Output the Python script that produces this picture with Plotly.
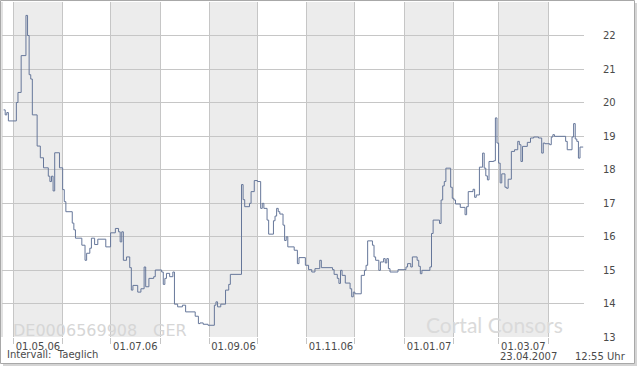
import plotly.graph_objects as go

# ---- data ----
dates = [
    "2006-04-25", "2006-04-26", "2006-04-27", "2006-04-28", "2006-05-03", "2006-05-04", "2006-05-06",
    "2006-05-09", "2006-05-10", "2006-05-11", "2006-05-12", "2006-05-13", "2006-05-16", "2006-05-18",
    "2006-05-20", "2006-05-23", "2006-05-24", "2006-05-25", "2006-05-26", "2006-05-27", "2006-05-30",
    "2006-06-01", "2006-06-02", "2006-06-03", "2006-06-07", "2006-06-08", "2006-06-09", "2006-06-13",
    "2006-06-15", "2006-06-16", "2006-06-18", "2006-06-19", "2006-06-21", "2006-06-23", "2006-06-28",
    "2006-07-01", "2006-07-04", "2006-07-06", "2006-07-07", "2006-07-08", "2006-07-09", "2006-07-11",
    "2006-07-13", "2006-07-14", "2006-07-15", "2006-07-18", "2006-07-20", "2006-07-22", "2006-07-23",
    "2006-07-25", "2006-07-28", "2006-07-29", "2006-08-02", "2006-08-03", "2006-08-04", "2006-08-05",
    "2006-08-07", "2006-08-09", "2006-08-10", "2006-08-12", "2006-08-15", "2006-08-17", "2006-08-23",
    "2006-08-25", "2006-08-26", "2006-08-28", "2006-08-31", "2006-09-04", "2006-09-05", "2006-09-06",
    "2006-09-08", "2006-09-11", "2006-09-13", "2006-09-14", "2006-09-21", "2006-09-22", "2006-09-23",
    "2006-09-26", "2006-09-27", "2006-09-29", "2006-10-01", "2006-10-03", "2006-10-04", "2006-10-05",
    "2006-10-07", "2006-10-08", "2006-10-11", "2006-10-12", "2006-10-13", "2006-10-14", "2006-10-15",
    "2006-10-17", "2006-10-18", "2006-10-19", "2006-10-20", "2006-10-24", "2006-10-26", "2006-10-27",
    "2006-10-31", "2006-11-02", "2006-11-04", "2006-11-06", "2006-11-09", "2006-11-10", "2006-11-17",
    "2006-11-18", "2006-11-20", "2006-11-21", "2006-11-22", "2006-11-23", "2006-11-25", "2006-11-28",
    "2006-11-29", "2006-11-30", "2006-12-01", "2006-12-05", "2006-12-07", "2006-12-08", "2006-12-09",
    "2006-12-12", "2006-12-13", "2006-12-14", "2006-12-16", "2006-12-17", "2006-12-19", "2006-12-20",
    "2006-12-21", "2006-12-22", "2006-12-23", "2006-12-28", "2007-01-02", "2007-01-03", "2007-01-05",
    "2007-01-06", "2007-01-09", "2007-01-10", "2007-01-11", "2007-01-12", "2007-01-17", "2007-01-18",
    "2007-01-19", "2007-01-23", "2007-01-24", "2007-01-25", "2007-01-26", "2007-01-27", "2007-01-30",
    "2007-01-31", "2007-02-01", "2007-02-02", "2007-02-05", "2007-02-08", "2007-02-09", "2007-02-10",
    "2007-02-13", "2007-02-14", "2007-02-15", "2007-02-17", "2007-02-19", "2007-02-20", "2007-02-21",
    "2007-02-22", "2007-02-23", "2007-02-26", "2007-02-27", "2007-02-28", "2007-03-01", "2007-03-02",
    "2007-03-03", "2007-03-05", "2007-03-06", "2007-03-07", "2007-03-09", "2007-03-11", "2007-03-13",
    "2007-03-14", "2007-03-15", "2007-03-16", "2007-03-19", "2007-03-21", "2007-03-23", "2007-03-26",
    "2007-03-28", "2007-03-29", "2007-03-30", "2007-04-02", "2007-04-03", "2007-04-04", "2007-04-05",
    "2007-04-12", "2007-04-13", "2007-04-16", "2007-04-17", "2007-04-18", "2007-04-19", "2007-04-20",
    "2007-04-21", "2007-04-23",
]
prices = [
    19.78, 19.63, 19.70, 19.45, 20.00, 20.30, 21.40,
    22.60, 22.00, 20.83, 20.70, 19.63, 18.70, 18.35,
    18.05, 17.80, 17.64, 17.80, 17.36, 18.50, 18.05,
    17.40, 17.04, 16.74, 16.40, 16.20, 15.95, 15.74,
    15.29, 15.50, 15.65, 15.95, 15.76, 15.92, 15.69,
    16.11, 16.24, 16.14, 15.84, 16.14, 15.29, 15.39,
    15.07, 14.40, 14.54, 14.34, 14.44, 15.09, 14.50,
    14.75, 14.80, 15.00, 14.94, 14.57, 14.75, 14.90,
    14.80, 14.94, 13.98, 13.90, 13.95, 13.75, 13.62,
    13.40, 13.42, 13.38, 13.35, 13.95, 14.05, 13.90,
    13.98, 14.40, 14.57, 14.87, 17.55, 17.10, 16.89,
    16.99, 17.34, 17.67, 17.64, 16.84, 16.99, 16.84,
    16.49, 16.07, 16.47, 16.61, 16.84, 16.74, 16.67,
    16.34, 15.88, 15.99, 15.69, 15.59, 15.19, 15.37,
    15.14, 15.01, 14.94, 15.04, 15.29, 15.07, 15.01,
    14.87, 14.75, 14.60, 14.99, 14.84, 14.61, 14.44,
    14.20, 14.34, 14.29, 14.84, 14.99, 15.14, 15.87,
    15.74, 15.39, 15.29, 14.99, 15.24, 15.34, 15.21,
    15.34, 15.04, 14.94, 15.01, 15.09, 15.19, 15.09,
    15.39, 15.29, 15.11, 14.89, 14.99, 15.09, 16.09,
    16.49, 16.39, 17.09, 17.51, 17.64, 18.04, 17.47,
    17.14, 17.09, 16.97, 16.87, 16.65, 16.89, 17.34,
    17.41, 17.17, 17.24, 18.07, 18.49, 18.04, 17.81,
    17.69, 18.24, 18.26, 19.54, 18.79, 18.19, 17.60,
    17.87, 17.47, 17.44, 17.71, 18.54, 18.59, 18.84,
    18.74, 18.24, 18.69, 18.81, 18.94, 18.97, 18.94,
    18.49, 18.79, 18.77, 18.74, 18.97, 19.04, 18.99,
    18.84, 18.59, 18.97, 19.37, 18.91, 18.84, 18.34,
    18.67, 18.67,
]
month_starts = ["2006-05-01", "2006-06-01", "2006-07-01", "2006-08-01", "2006-09-01", "2006-10-01",
                "2006-11-01", "2006-12-01", "2007-01-01", "2007-02-01", "2007-03-01", "2007-04-01"]
shaded_months = [("2006-05-01", "2006-06-01"), ("2006-07-01", "2006-08-01"), ("2006-09-01", "2006-10-01"),
                 ("2006-11-01", "2006-12-01"), ("2007-01-01", "2007-02-01"), ("2007-03-01", "2007-04-01")]
x_label_pos = ["2006-05-16 12:00", "2006-07-16 12:00", "2006-09-16", "2006-11-16", "2007-01-16 12:00", "2007-03-16 12:00"]
x_labels = ["01.05.06", "01.07.06", "01.09.06", "01.11.06", "01.01.07", "01.03.07"]
y_ticks = [13, 14, 15, 16, 17, 18, 19, 20, 21, 22, 23]
y_labels = ["13", "14", "15", "16", "17", "18", "19", "20", "21", "22", ""]
x_range = ["2006-04-24", "2007-04-23 12:00"]

FONT = "DejaVu Sans"
TXT = "#4a4a4a"
GRID = "#c6c6c6"

fig = go.Figure()
fig.add_trace(go.Scatter(x=dates, y=prices, mode="lines", line=dict(color="#66779a", width=1, shape="hv"),
                         hoverinfo="skip", showlegend=False))

# plot area in px: x 2..584, y 2..337
def px_x(p):
    return (p - 2) / 582.0

def px_y(p):
    return (337 - p) / 335.0

shapes = []
# frame shadow + frame
shapes.append(dict(type="rect", xref="paper", yref="paper", x0=px_x(3), x1=px_x(637), y0=px_y(366), y1=px_y(3),
                   fillcolor="#d4d4d4", line=dict(width=0), layer="below"))
shapes.append(dict(type="rect", xref="paper", yref="paper", x0=px_x(0.5), x1=px_x(634.5), y0=px_y(363.5), y1=px_y(0.5),
                   fillcolor="white", line=dict(color="#a8a8a8", width=1), layer="below"))
for a, b in shaded_months:
    shapes.append(dict(type="rect", xref="x", yref="paper", x0=a, x1=b, y0=0, y1=1,
                       fillcolor="#ececec", line=dict(width=0), layer="below"))
fig.update_layout(shapes=shapes)

ann = [
    dict(text="DE0006569908", x=px_x(11), y=px_y(330), xanchor="left", yanchor="middle",
         font=dict(family=FONT, size=16, color="#d6d6d6")),
    dict(text="GER", x=px_x(151), y=px_y(330), xanchor="left", yanchor="middle",
         font=dict(family=FONT, size=16, color="#d6d6d6")),
    dict(text="Cortal Consors", x=px_x(424), y=px_y(324), xanchor="left", yanchor="middle",
         font=dict(family="Lato", size=21, color="#dadada")),
    dict(text="Intervall:  Taeglich", x=px_x(5), y=px_y(355), xanchor="left", yanchor="middle",
         font=dict(family=FONT, size=10, color=TXT)),
    dict(text="23.04.2007", x=px_x(528), y=px_y(356), xanchor="center", yanchor="middle",
         font=dict(family=FONT, size=10, color=TXT)),
    dict(text="12:55 Uhr", x=px_x(601), y=px_y(356), xanchor="center", yanchor="middle",
         font=dict(family=FONT, size=10, color=TXT)),
]
for a in ann:
    a.update(xref="paper", yref="paper", showarrow=False)
fig.update_layout(annotations=ann)

fig.update_layout(
    width=640, height=370, autosize=False,
    margin=dict(l=2, r=56, t=2, b=33, pad=0),
    paper_bgcolor="white", plot_bgcolor="rgba(0,0,0,0)",
    font=dict(family=FONT, size=10, color=TXT),
    xaxis=dict(type="date", range=x_range, tickmode="array", tickvals=x_label_pos, ticktext=x_labels,
               showgrid=False, zeroline=False, showline=False, ticks="", ticklabelstandoff=2,
               tickfont=dict(family=FONT, size=10, color=TXT),
               minor=dict(tickmode="array", tickvals=month_starts, showgrid=True, gridcolor=GRID, gridwidth=1,
                          ticks="outside", ticklen=6, tickcolor=GRID, tickwidth=1)),
    yaxis=dict(side="right", range=[13, 23], tickmode="array", tickvals=y_ticks, ticktext=y_labels,
               showgrid=True, gridcolor=GRID, gridwidth=1, zeroline=False, showline=False, ticks="",
               ticklabelstandoff=18, tickfont=dict(family=FONT, size=10, color=TXT)),
)
fig.add_shape(type="line", xref="paper", yref="paper", x0=0, x1=0, y0=0, y1=1, line=dict(color=GRID, width=1))

fig.write_html("out.html")
